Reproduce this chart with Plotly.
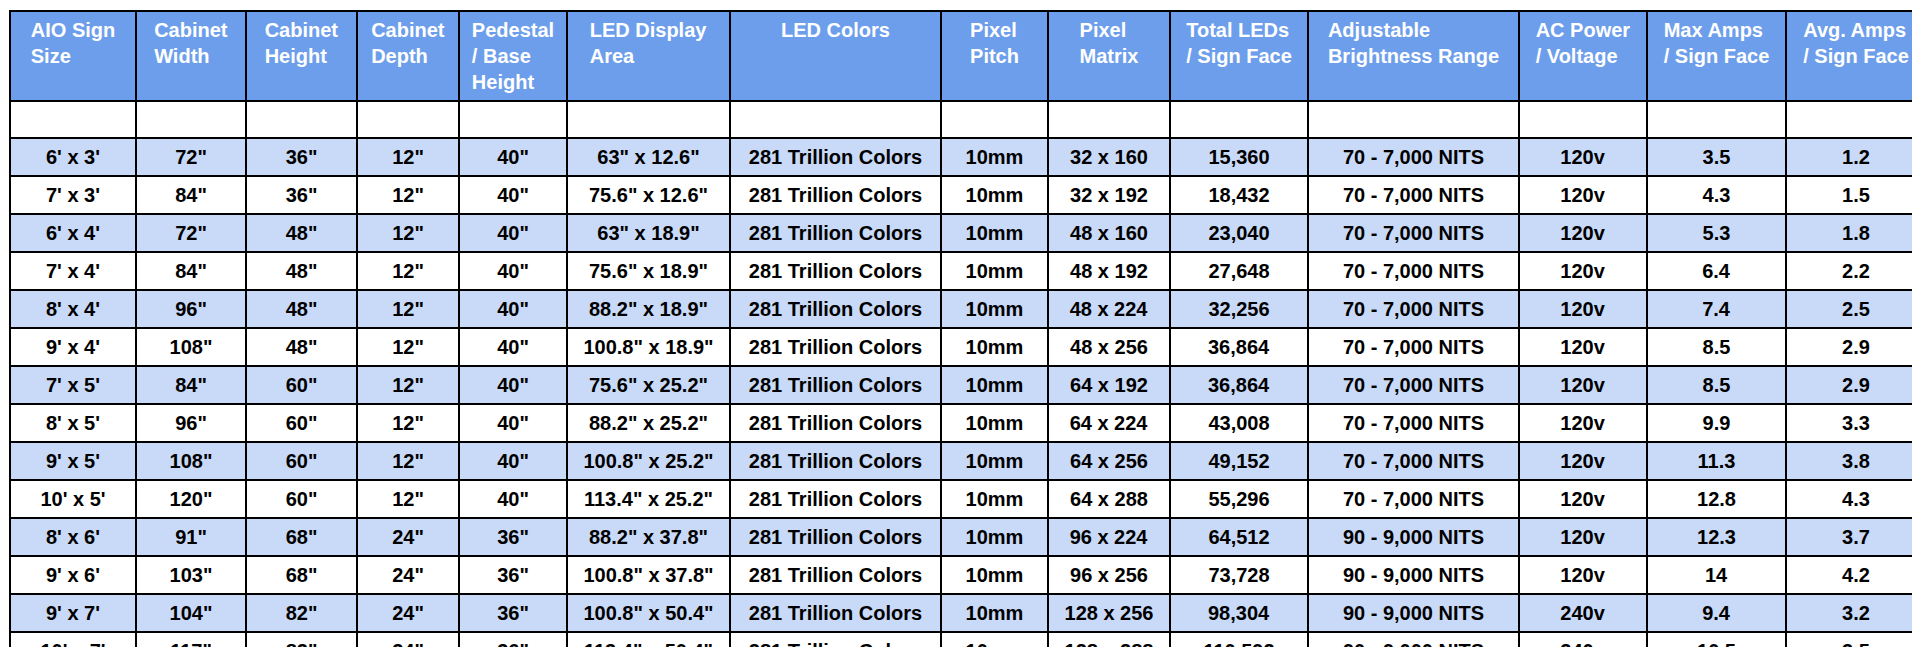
import plotly.graph_objects as go

headers = ["AIO Sign<br>Size", "Cabinet<br>Width", "Cabinet<br>Height", "Cabinet<br>Depth",
           "Pedestal<br>/ Base<br>Height", "LED Display<br>Area", "LED Colors", "Pixel<br>Pitch",
           "Pixel<br>Matrix", "Total LEDs<br>/ Sign Face", "Adjustable<br>Brightness Range",
           "AC Power<br>/ Voltage", "Max Amps<br>/ Sign Face", "Avg. Amps<br>/ Sign Face"]

sizes = ["6' x 3'", "7' x 3'", "6' x 4'", "7' x 4'", "8' x 4'", "9' x 4'", "7' x 5'",
         "8' x 5'", "9' x 5'", "10' x 5'", "8' x 6'", "9' x 6'", "9' x 7'", "10' x 7'"]
cab_width = ['72"', '84"', '72"', '84"', '96"', '108"', '84"', '96"', '108"', '120"', '91"', '103"', '104"', '117"']
cab_height = ['36"', '36"', '48"', '48"', '48"', '48"', '60"', '60"', '60"', '60"', '68"', '68"', '82"', '82"']
cab_depth = ['12"'] * 10 + ['24"'] * 4
pedestal = ['40"'] * 10 + ['36"'] * 4
display_area = ['63" x 12.6"', '75.6" x 12.6"', '63" x 18.9"', '75.6" x 18.9"', '88.2" x 18.9"',
                '100.8" x 18.9"', '75.6" x 25.2"', '88.2" x 25.2"', '100.8" x 25.2"', '113.4" x 25.2"',
                '88.2" x 37.8"', '100.8" x 37.8"', '100.8" x 50.4"', '113.4" x 50.4"']
led_colors = ["281 Trillion Colors"] * 14
pitch = ["10mm"] * 14
matrix = ["32 x 160", "32 x 192", "48 x 160", "48 x 192", "48 x 224", "48 x 256", "64 x 192",
          "64 x 224", "64 x 256", "64 x 288", "96 x 224", "96 x 256", "128 x 256", "128 x 288"]
total_leds = ["15,360", "18,432", "23,040", "27,648", "32,256", "36,864", "36,864", "43,008",
              "49,152", "55,296", "64,512", "73,728", "98,304", "110,592"]
brightness = ["70 - 7,000 NITS"] * 10 + ["90 - 9,000 NITS"] * 4
voltage = ["120v"] * 12 + ["240v"] * 2
max_amps = ["3.5", "4.3", "5.3", "6.4", "7.4", "8.5", "8.5", "9.9", "11.3", "12.8", "12.3", "14", "9.4", "10.5"]
avg_amps = ["1.2", "1.5", "1.8", "2.2", "2.5", "2.9", "2.9", "3.3", "3.8", "4.3", "3.7", "4.2", "3.2", "3.5"]

columns = [sizes, cab_width, cab_height, cab_depth, pedestal, display_area, led_colors, pitch,
           matrix, total_leds, brightness, voltage, max_amps, avg_amps]
col_widths = [126, 110, 111, 102, 108, 163, 211, 107, 122, 138, 211, 128, 139, 140]

# blank spacer row on top, then alternating light blue / white
cells = [[""] + col for col in columns]
row_fill = ["white"] + ["#c9daf8" if i % 2 == 0 else "white" for i in range(len(sizes))]

fig = go.Figure(go.Table(
    columnwidth=col_widths,
    header=dict(values=[f"<b>{h}</b>" for h in headers],
                fill_color="#6d9eeb", line=dict(color="black", width=2),
                font=dict(family="Liberation Sans, Arial", size=20, color="white"),
                align="center", height=88),
    cells=dict(values=[[f"<b>{v}</b>" for v in col] for col in cells],
               fill_color=[row_fill] * len(cells), line=dict(color="black", width=2),
               font=dict(family="Liberation Sans, Arial", size=20, color="black"),
               align="center", height=37),
    domain=dict(x=[0, 1], y=[0, 1]),
))

fig.update_layout(width=1920, height=647, margin=dict(l=2, r=2, t=3, b=0),
                  paper_bgcolor="white")

fig.write_html("out.html")
